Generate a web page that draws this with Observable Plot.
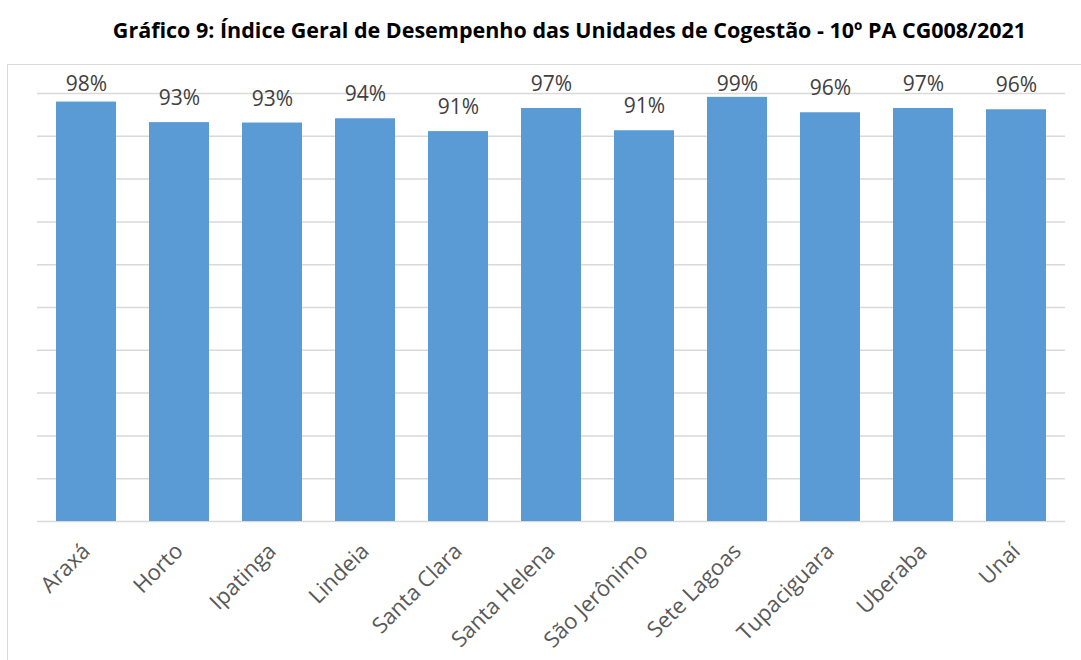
<!DOCTYPE html>
<html><head><meta charset="utf-8">
<script src="https://cdn.jsdelivr.net/npm/d3@7"></script>
<script src="https://cdn.jsdelivr.net/npm/@observablehq/plot@0.6"></script>
<style>
html,body{margin:0;padding:0;background:#fff;overflow:hidden;}
#title{height:64px;box-sizing:border-box;padding-top:15px;padding-left:58px;text-align:center;font-family:"Open Sans",sans-serif;font-weight:bold;font-size:21.5px;color:#000;white-space:nowrap;}
#frame{margin-left:7px;border-left:1px solid #d9d9d9;border-top:1px solid #d9d9d9;width:1080px;height:600px;}
</style></head>
<body>
<div id="title">Gráfico 9: Índice Geral de Desempenho das Unidades de Cogestão - 10º PA CG008/2021</div>
<div id="frame"></div>
<script>
const units = ["Araxá","Horto","Ipatinga","Lindeia","Santa Clara","Santa Helena","São Jerônimo","Sete Lagoas","Tupaciguara","Uberaba","Unaí"];
const values = [0.980,0.932,0.931,0.941,0.911,0.965,0.913,0.991,0.955,0.965,0.962];
const labels = ["98%","93%","93%","94%","91%","97%","91%","99%","96%","97%","96%"];
const gridTicks = d3.range(0, 1.0001, 0.1);

const data = units.map((u,i)=>({unit:u, value:values[i], label:labels[i]}));

const chart = Plot.plot({
  width: 1073,
  height: 596,
  marginLeft: 29,
  marginRight: 16,
  marginTop: 28,
  marginBottom: 140,
  style: {fontFamily: "'Open Sans', sans-serif", background: "#fff", overflow: "visible"},
  x: {domain: units, paddingInner: 0.35, paddingOuter: 0.175, label: null},
  y: {domain: [0, 1], label: null, axis: null},
  marks: [
    Plot.ruleY(gridTicks, {stroke: "#d9d9d9", strokeWidth: 1.5}),
    Plot.barY(data, {x: "unit", y: "value", fill: "#5b9bd5"}),
    Plot.text(data, {x: "unit", y: d => Math.min(d.value, 0.966), text: "label", dy: -24, fontSize: 21, fill: "#404040", lineAnchor: "middle"}),
    Plot.axisX({tickSize: 0, tickRotate: -45, tickPadding: 26, fontSize: 22, color: "#595959", label: null})
  ]
});
document.getElementById("frame").appendChild(chart);
</script>
</body></html>
